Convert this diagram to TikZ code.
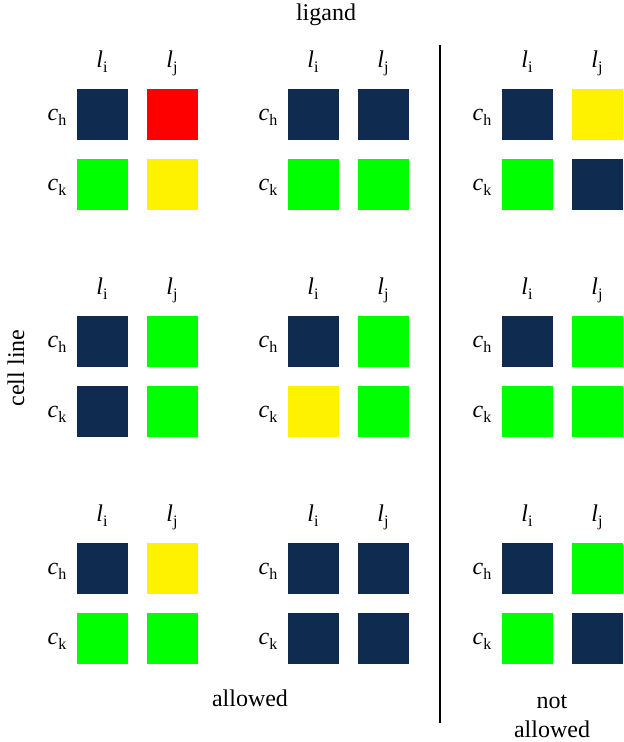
\documentclass[tikz,border=0pt]{standalone}
\usepackage{fontspec}
\setmainfont{Liberation Serif}
\usetikzlibrary{positioning}

\definecolor{navy}{RGB}{15,43,80}
\newcommand\symb[2]{\textit{#1}\raisebox{-.24em}{\fontsize{16}{16}\selectfont #2}}

\tikzset{
  cell/.style={minimum size=51pt,inner sep=0pt,outer sep=0pt},
  lab/.style={font=\fontsize{24}{28}\selectfont,inner sep=0pt,anchor=base}
}

\begin{document}
\begin{tikzpicture}[x=1pt,y=-1pt]
\useasboundingbox (0,0) rectangle (624,742);

% panels: number / x of first column / y of first row / colours hi, hj, ki, kj
\foreach \n/\x/\y/\a/\b/\c/\d in {
    1/102/114/navy/red/green/yellow,
    2/313/114/navy/navy/green/green,
    3/527/114/navy/yellow/green/navy,
    4/102/341/navy/green/navy/green,
    5/313/341/navy/green/yellow/green,
    6/527/341/navy/green/green/green,
    7/102/568/navy/yellow/green/green,
    8/313/568/navy/navy/navy/navy,
    9/527/568/navy/green/green/navy}{
  \node[cell,fill=\a] (p\n-hi) at (\x,\y) {};
  \node[cell,fill=\b] (p\n-hj) at (\x+70,\y) {};
  \node[cell,fill=\c] (p\n-ki) at (\x,\y+70) {};
  \node[cell,fill=\d] (p\n-kj) at (\x+70,\y+70) {};
  \node[lab] (p\n-li) at (\x,\y-47) {\symb{l}{i}};
  \node[lab] (p\n-lj) at (\x+70,\y-47) {\symb{l}{j}};
  \node[lab] (p\n-ch) at (\x-45,\y+6) {\symb{c}{h}};
  \node[lab] (p\n-ck) at (\x-45,\y+76) {\symb{c}{k}};
}

\node[lab] (ligand) at (326,20) {ligand};
\node[lab,rotate=90] (cellline) at (24,368) {cell line};
\node[lab] (allowed) at (250,706) {allowed};
\node[lab] (notallowed) at (552,708) {not};
\node[lab] (notallowed2) at (552,737) {allowed};

\coordinate (divtop) at (440,45);
\coordinate (divbot) at (440,723);
\draw[line width=1.5pt] (divtop) -- (divbot);
\end{tikzpicture}
\end{document}
